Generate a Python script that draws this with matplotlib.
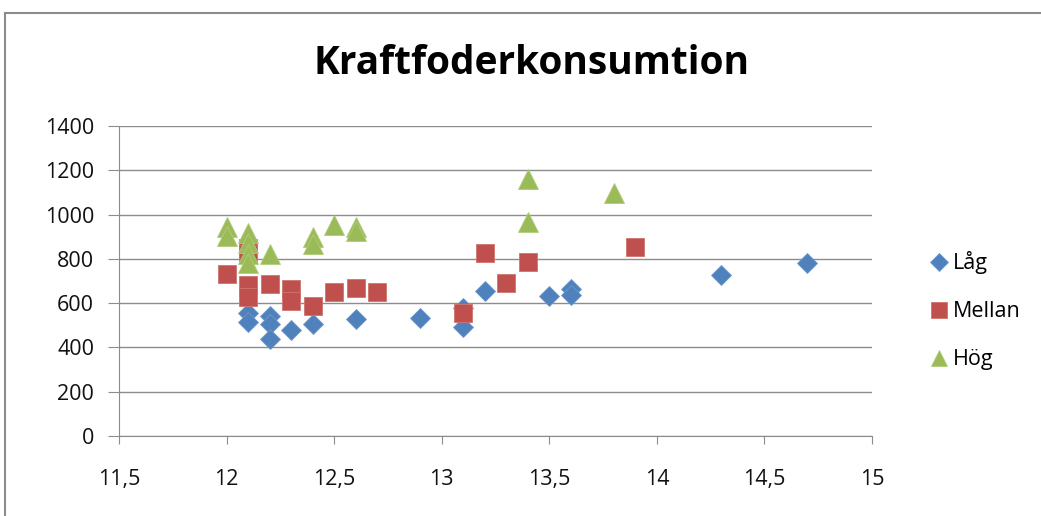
import matplotlib
matplotlib.use("Agg")
import matplotlib.pyplot as plt
from matplotlib.lines import Line2D
from matplotlib.ticker import FuncFormatter

# data
lag_x = [12.1, 12.1, 12.2, 12.2, 12.2, 12.3, 12.4, 12.6, 12.9, 13.1, 13.1,
         13.2, 13.5, 13.6, 13.6, 14.3, 14.7]
lag_y = [556, 515, 540, 506, 440, 480, 506, 530, 533, 580, 492,
         655, 632, 662, 638, 727, 781]

mellan_x = [12.0, 12.1, 12.1, 12.1, 12.1, 12.2, 12.3, 12.3, 12.4, 12.5,
            12.6, 12.7, 13.1, 13.2, 13.3, 13.4, 13.9]
mellan_y = [732, 850, 820, 680, 630, 687, 665, 608, 587, 650,
            669, 650, 555, 826, 691, 786, 854]

hog_x = [12.0, 12.0, 12.1, 12.1, 12.1, 12.1, 12.2, 12.4, 12.4, 12.5,
         12.6, 12.6, 13.4, 13.4, 13.8]
hog_y = [945, 905, 915, 870, 820, 780, 820, 900, 865, 955,
         945, 925, 1160, 965, 1097]

x_ticks = [11.5, 12, 12.5, 13, 13.5, 14, 14.5, 15]
y_ticks = [0, 200, 400, 600, 800, 1000, 1200, 1400]

plt.rcParams['font.family'] = ['Open Sans', 'DejaVu Sans']

fig = plt.figure(figsize=(10.41, 5.16), dpi=100)
ax = fig.add_axes([119 / 1041, 1 - 436 / 516, 753 / 1041, 310 / 516])

ax.plot(lag_x, lag_y, 'D', color='#4F81BD', markersize=10.5,
        markeredgecolor='#6F98CC', markeredgewidth=0.6, label='Låg', zorder=3)
ax.plot(mellan_x, mellan_y, 's', color='#C0504D', markersize=13.5,
        markeredgecolor='#D07470', markeredgewidth=0.6, label='Mellan', zorder=3)
ax.plot(hog_x, hog_y, '^', color='#9BBB59', markersize=14,
        markeredgecolor='#B0CB7A', markeredgewidth=0.6, label='Hög', zorder=3)

ax.set_xlim(11.5, 15)
ax.set_ylim(0, 1400)
ax.set_xticks(x_ticks)
ax.set_yticks(y_ticks)
ax.xaxis.set_major_formatter(FuncFormatter(lambda v, p: f"{v:g}".replace('.', ',')))
ax.grid(axis='y', color='#8C8C8C', linewidth=1.0)
ax.set_axisbelow(True)
for side in ['top', 'right']:
    ax.spines[side].set_visible(False)
for side in ['left', 'bottom']:
    ax.spines[side].set_color('#8C8C8C')
ax.tick_params(axis='both', direction='out', color='#8C8C8C',
               labelsize=15.5, labelcolor='#111111')
ax.tick_params(axis='x', length=6, pad=18)
ax.tick_params(axis='y', length=8, pad=10)

fig.text(0.511, 0.876, 'Kraftfoderkonsumtion', ha='center', va='center',
         fontsize=28, fontweight='bold')

fig.legend(loc='center left', bbox_to_anchor=(0.883, 0.398), frameon=False,
           fontsize=15.5, handletextpad=0.15, labelspacing=1.25, handlelength=1.0,
           borderaxespad=0, markerscale=0.85)

# chart frame
fig.add_artist(Line2D([5 / 1041, 5 / 1041], [0, 1 - 13 / 516],
                      transform=fig.transFigure, color='#8C8C8C', lw=1.5))
fig.add_artist(Line2D([5 / 1041, 1], [1 - 13 / 516, 1 - 13 / 516],
                      transform=fig.transFigure, color='#8C8C8C', lw=1.5))

fig.savefig('out.png', dpi=100)
